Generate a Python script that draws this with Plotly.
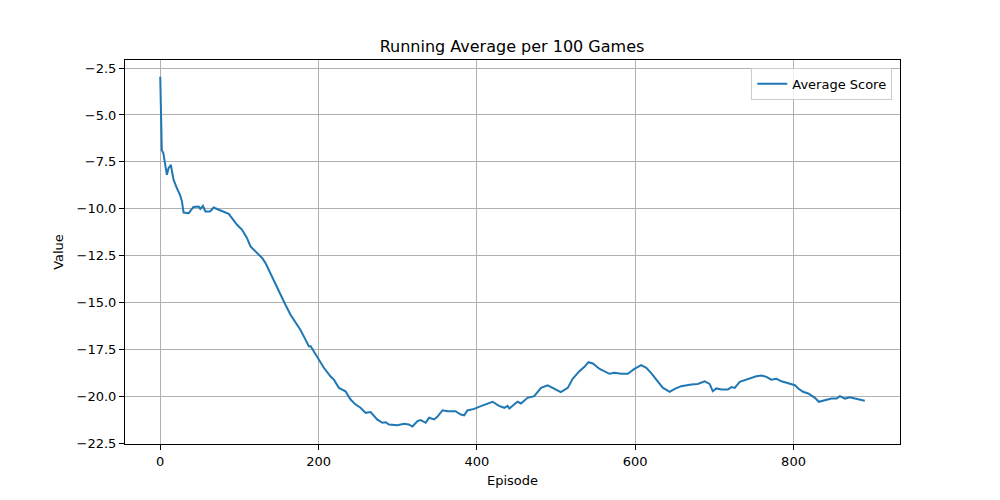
import plotly.graph_objects as go

episodes = [0, 1, 2, 4, 6, 8.4, 10.5, 13.5, 14.8, 16.9, 21, 25, 27.4, 29.5, 35.9, 42, 48.5, 50.6, 54, 57, 63,
            67.5, 74, 82, 86.5, 92.8, 97, 103.4, 109.7, 114, 120, 128.7, 133, 139, 145.6, 152, 158, 164.6, 171,
            177, 183.5, 187.7, 190, 200.4, 206.7, 215, 219.4, 225.7, 234, 240.5, 246.8, 253, 259.5, 265.8, 274,
            280.6, 284.8, 289, 299.6, 308, 314, 318.6, 325, 329, 335.4, 339.6, 346, 350, 356.6, 363, 373, 379.7,
            384, 388, 396.6, 405, 411, 419.8, 428, 434.6, 438.8, 441, 447, 451.5, 455.7, 464, 472.5, 481, 489.5,
            495.8, 506, 514.8, 521, 529.5, 535.9, 541, 546.5, 555, 567.5, 573.8, 582.3, 590.7, 599, 607.6, 614,
            620, 628.7, 635, 639, 643.5, 650, 658, 671, 679, 687.7, 694, 698, 702.5, 709, 717, 721.5, 725.7,
            732, 740.5, 746.8, 753, 759.5, 765.8, 772, 778.5, 784.8, 793, 801.7, 806, 812, 818.6, 827, 832,
            839.6, 848, 854.4, 858.6, 865, 871, 877.6, 886, 890]
avg_score = [-2.96, -4.5, -6.86, -7.04, -7.57, -8.19, -7.84, -7.66, -8.0, -8.46, -8.9, -9.26, -9.6, -10.2, -10.23,
             -9.9, -9.88, -10.0, -9.84, -10.14, -10.14, -9.93, -10.05, -10.2, -10.27, -10.62, -10.85, -11.12,
             -11.56, -12.0, -12.27, -12.62, -12.89, -13.42, -14.04, -14.66, -15.1, -15.64, -16.08, -16.44,
             -16.97, -17.32, -17.32, -18.03, -18.47, -18.92, -19.1, -19.54, -19.72, -20.16, -20.43, -20.6,
             -20.87, -20.83, -21.22, -21.4, -21.37, -21.49, -21.53, -21.45, -21.49, -21.6, -21.31, -21.26,
             -21.4, -21.13, -21.22, -21.08, -20.73, -20.78, -20.78, -20.96, -21.0, -20.74, -20.66, -20.51,
             -20.42, -20.28, -20.5, -20.6, -20.5, -20.64, -20.43, -20.28, -20.37, -20.07, -19.98, -19.54,
             -19.4, -19.54, -19.77, -19.54, -19.06, -18.65, -18.42, -18.17, -18.24, -18.53, -18.79, -18.74,
             -18.79, -18.79, -18.53, -18.33, -18.47, -18.74, -19.24, -19.54, -19.63, -19.75, -19.59, -19.45,
             -19.36, -19.33, -19.19, -19.33, -19.72, -19.57, -19.63, -19.63, -19.5, -19.54, -19.22, -19.1,
             -19.0, -18.92, -18.88, -18.95, -19.1, -19.06, -19.19, -19.31, -19.4, -19.57, -19.75, -19.84,
             -20.07, -20.28, -20.2, -20.11, -20.11, -19.98, -20.11, -20.04, -20.11, -20.2, -20.22]

x_ticks = [0, 200, 400, 600, 800]
y_ticks = [-2.5, -5.0, -7.5, -10.0, -12.5, -15.0, -17.5, -20.0, -22.5]

font = "DejaVu Sans, sans-serif"

fig = go.Figure()
fig.add_trace(go.Scatter(x=episodes, y=avg_score, mode="lines", name="Average Score",
                         line=dict(color="#1f77b4", width=2)))

axis_common = dict(showline=True, linecolor="black", linewidth=1, mirror=True,
                   ticks="outside", ticklen=5, tickcolor="black", tickwidth=1,
                   showgrid=True, gridcolor="#b0b0b0", gridwidth=1, zeroline=False,
                   tickfont=dict(family=font, size=13, color="black"))

fig.update_layout(
    width=1000, height=500,
    margin=dict(l=117, r=108, t=52, b=64),
    paper_bgcolor="white", plot_bgcolor="white",
    font=dict(family=font, color="black"),
    title=dict(text="Running Average per 100 Games", x=0.504, xanchor="center",
               y=0.924, yanchor="middle", font=dict(family=font, size=16, color="black")),
    xaxis=dict(range=[-44.5, 934.5], tickvals=x_ticks, ticktext=[str(v) for v in x_ticks],
               title=dict(text="Episode", font=dict(family=font, size=13), standoff=8), **axis_common),
    yaxis=dict(range=[-22.53, -2.07], tickvals=y_ticks,
               ticktext=[("\u2212%.1f" % abs(v)) for v in y_ticks],
               title=dict(text="Value", font=dict(family=font, size=13), standoff=10), **axis_common),
    showlegend=True,
    legend=dict(x=0.99, xanchor="right", y=0.98, yanchor="top", bgcolor="rgba(255,255,255,0.8)",
                bordercolor="#cccccc", borderwidth=1, font=dict(family=font, size=13)),
)

fig.write_html("out.html")
